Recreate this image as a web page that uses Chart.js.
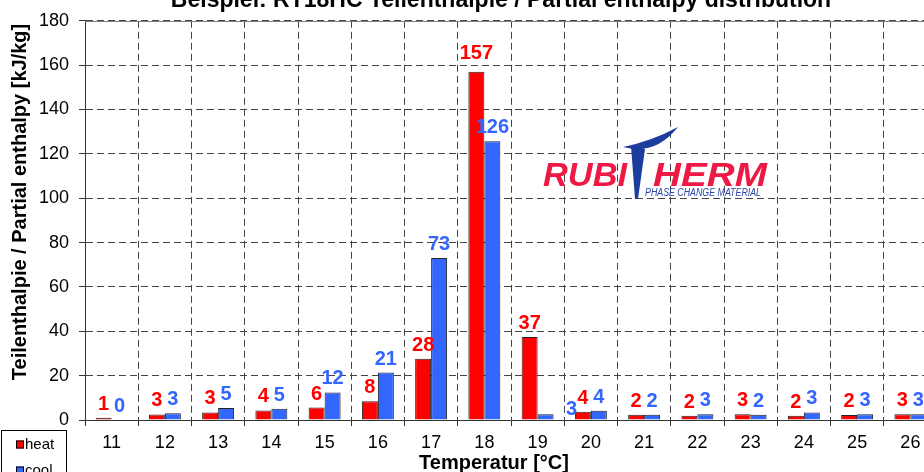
<!DOCTYPE html>
<html><head><meta charset="utf-8">
<script src="https://cdn.jsdelivr.net/npm/chart.js@4/dist/chart.umd.min.js"></script>
<style>
html,body{margin:0;padding:0;overflow:hidden;background:#fff;width:924px;height:472px}
#wrap{position:absolute;left:0;top:0;width:960px;height:500px}
</style>
</head><body>
<div id="wrap"><canvas id="c" width="960" height="500"></canvas></div>
<script>
const categories = ['11','12','13','14','15','16','17','18','19','20','21','22','23','24','25','26'];
const heatValues = [1, 2.5, 3.4, 4.3, 5.6, 8.4, 27.6, 157, 37.4, 3.7, 2.4, 1.9, 2.6, 1.9, 2.2, 2.6];
const coolValues = [0, 3, 5.4, 5.1, 12.4, 21.4, 73, 125.7, 2.6, 4.2, 2.4, 2.6, 2.4, 3.4, 2.6, 2.6];
const yTicks = [0, 20, 40, 60, 80, 100, 120, 140, 160, 180];
const titleText = 'Beispiel: RT18HC Teilenthalpie / Partial enthalpy distribution';
const xTitle = 'Temperatur [°C]';
const yTitle = 'Teilenthalpie / Partial enthalpy [kJ/kg]';
const seriesNames = ['heat', 'cool'];

const FONT = '"Liberation Sans", Arial, sans-serif';
Chart.defaults.font.family = FONT;

const RED = '#ff0000', BLUE = '#3366ff';

const decorPlugin = {
  id: 'decor',
  afterDatasetsDraw(chart) {
    const ctx = chart.ctx;
    ctx.save();
    ctx.font = 'bold 20px ' + FONT;
    ctx.textAlign = 'center';
    ctx.textBaseline = 'alphabetic';
    chart.data.datasets.forEach((ds, di) => {
      const meta = chart.getDatasetMeta(di);
      meta.data.forEach((bar, i) => {
        const txt = String(Math.round(ds.data[i]));
        let x = bar.x, y = bar.y - 8;
        const sh = (ds.labelShift || {})[i];
        if (sh) { x += sh[0]; y += sh[1]; }
        ctx.fillStyle = ds.labelColor;
        ctx.fillText(txt, x, y);
      });
    });
    ctx.restore();
  },
  afterDraw(chart) {
    const ctx = chart.ctx;
    const a = chart.chartArea;
    ctx.save();
    ctx.strokeStyle = '#808080';
    ctx.lineWidth = 1;
    ctx.beginPath();
    ctx.moveTo(a.left, Math.round(a.top) + 0.5);
    ctx.lineTo(a.right, Math.round(a.top) + 0.5);
    ctx.stroke();

    ctx.fillStyle = '#000';
    ctx.textAlign = 'center';
    ctx.textBaseline = 'alphabetic';
    ctx.font = 'bold 23px ' + FONT;
    ctx.fillText(titleText, 501, 6.5);
    ctx.font = 'bold 20px ' + FONT;
    ctx.fillText(xTitle, 494, 469);
    ctx.save();
    ctx.translate(26, 202);
    ctx.rotate(-Math.PI / 2);
    ctx.fillText(yTitle, 0, 0);
    ctx.restore();

    ctx.strokeStyle = '#000';
    ctx.lineWidth = 1;
    ctx.strokeRect(1.5, 430.5, 65, 70);
    ctx.font = '15px ' + FONT;
    ctx.textAlign = 'left';
    ctx.textBaseline = 'middle';
    [[RED, 444.5], [BLUE, 470.5]].forEach((e, k) => {
      ctx.fillStyle = e[0];
      ctx.fillRect(16, e[1] - 4, 8, 8);
      ctx.strokeStyle = '#000';
      ctx.strokeRect(16.5, e[1] - 3.5, 7, 7);
      ctx.fillStyle = '#000';
      ctx.fillText(seriesNames[k], 25, e[1]);
    });

    const drawWord = (w, x, y, target) => {
      const m = ctx.measureText(w).width;
      ctx.save();
      ctx.translate(x, y);
      ctx.scale(target / m, 1);
      ctx.fillText(w, 0, 0);
      ctx.restore();
    };
    ctx.textBaseline = 'alphabetic';
    ctx.font = 'italic bold 33px ' + FONT;
    ctx.fillStyle = '#ec1a45';
    drawWord('RUBI', 543, 186, 84);
    drawWord('HERM', 653, 186, 114);
    ctx.fillStyle = '#1c3c9e';
    ctx.beginPath();
    ctx.moveTo(623, 147);
    ctx.quadraticCurveTo(655, 156, 678, 127);
    ctx.quadraticCurveTo(652, 141, 623, 147);
    ctx.fill();
    ctx.beginPath();
    ctx.moveTo(631, 146);
    ctx.lineTo(645, 149);
    ctx.lineTo(638, 199);
    ctx.lineTo(635, 199);
    ctx.closePath();
    ctx.fill();
    ctx.font = 'italic 10px ' + FONT;
    ctx.fillStyle = '#2a45a8';
    drawWord('PHASE CHANGE MATERIAL', 645, 196, 116);
    ctx.restore();
  }
};

const gridCommon = {
  color: '#444',
  lineWidth: 1,
  tickLength: 6,
  tickColor: '#333',
  tickBorderDash: [],
  drawTicks: true
};

new Chart(document.getElementById('c'), {
  type: 'bar',
  data: {
    labels: categories,
    datasets: [
      { label: seriesNames[0], data: heatValues, backgroundColor: RED, borderColor: '#222', borderWidth: 1,
        borderSkipped: 'bottom', labelColor: RED, categoryPercentage: 0.6, barPercentage: 1,
        labelShift: { 7: [0, -5] } },
      { label: seriesNames[1], data: coolValues, backgroundColor: BLUE, borderColor: '#222', borderWidth: 1,
        borderSkipped: 'bottom', labelColor: BLUE, categoryPercentage: 0.6, barPercentage: 1,
        labelShift: { 8: [26, 9] } }
    ]
  },
  options: {
    responsive: false,
    animation: false,
    devicePixelRatio: 1,
    layout: { padding: { left: 0, top: 20, right: 23, bottom: 0 } },
    plugins: { legend: { display: false }, title: { display: false }, tooltip: { enabled: false } },
    scales: {
      x: {
        grid: Object.assign({ offset: true }, gridCommon),
        border: { display: true, color: '#333', width: 1, dash: [7, 4] },
        ticks: { color: '#000', font: { size: 18 }, padding: 6, maxRotation: 0, autoSkip: false },
        afterFit(s) { s.height = 80; }
      },
      y: {
        min: 0, max: 180,
        afterBuildTicks(s) { s.ticks = yTicks.map(v => ({ value: v })); },
        grid: gridCommon,
        border: { display: true, color: '#333', width: 1, dash: [7, 4] },
        ticks: { color: '#000', font: { size: 18 }, padding: 10 },
        afterFit(s) { s.width = 85; }
      }
    }
  },
  plugins: [decorPlugin]
});
</script>
</body></html>
